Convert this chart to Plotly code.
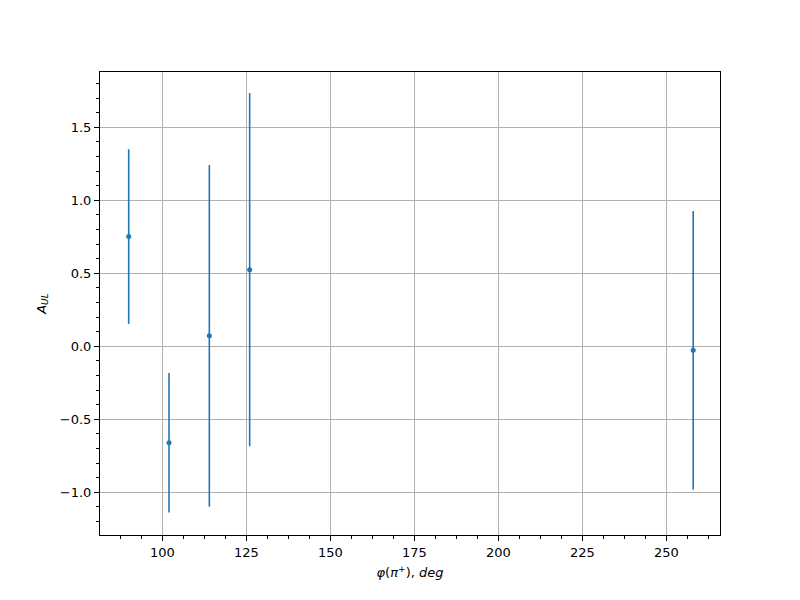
import plotly.graph_objects as go

phi = [90, 102, 114, 126, 258]
a_ul = [0.752, -0.660, 0.072, 0.525, -0.027]
a_err = [0.598, 0.478, 1.170, 1.210, 0.954]

fig = go.Figure()
fig.add_trace(go.Scatter(
    x=phi, y=a_ul, mode="markers",
    marker=dict(color="#1f77b4", size=5),
    error_y=dict(type="data", array=a_err, visible=True, color="#1f77b4",
                 thickness=1.6, width=0),
    showlegend=False,
))

axis_common = dict(
    showline=True, linecolor="black", linewidth=1, mirror=True,
    showgrid=True, gridcolor="#b0b0b0", gridwidth=0.8,
    zeroline=False, ticks="outside", ticklen=5, tickwidth=1, tickcolor="black",
    tickfont=dict(family="DejaVu Sans", size=13, color="black"),
    automargin=False,
)

fig.update_layout(
    width=792, height=592,
    paper_bgcolor="white", plot_bgcolor="white",
    margin=dict(l=92, r=80, t=64, b=65),
    font=dict(family="DejaVu Sans", size=13, color="black"),
    xaxis=dict(
        range=[81.46, 265.98], tick0=0, dtick=25,
        minor=dict(dtick=6.25, tick0=0, ticks="outside", ticklen=3, tickcolor="black", showgrid=False),
        title=dict(text="<i>φ</i>(<i>π</i><sup>+</sup>),<i> deg</i>", standoff=9,
                   font=dict(family="DejaVu Sans", size=13)),
        **axis_common,
    ),
    yaxis=dict(
        range=[-1.292, 1.879], tick0=0, dtick=0.5, tickformat=".1f",
        minor=dict(dtick=0.1, tick0=0, ticks="outside", ticklen=3, tickcolor="black", showgrid=False),
        title=dict(text="<i>A</i><sub><i>UL</i></sub>", standoff=10,
                   font=dict(family="DejaVu Sans", size=13)),
        **axis_common,
    ),
)

fig.write_html("out.html")
